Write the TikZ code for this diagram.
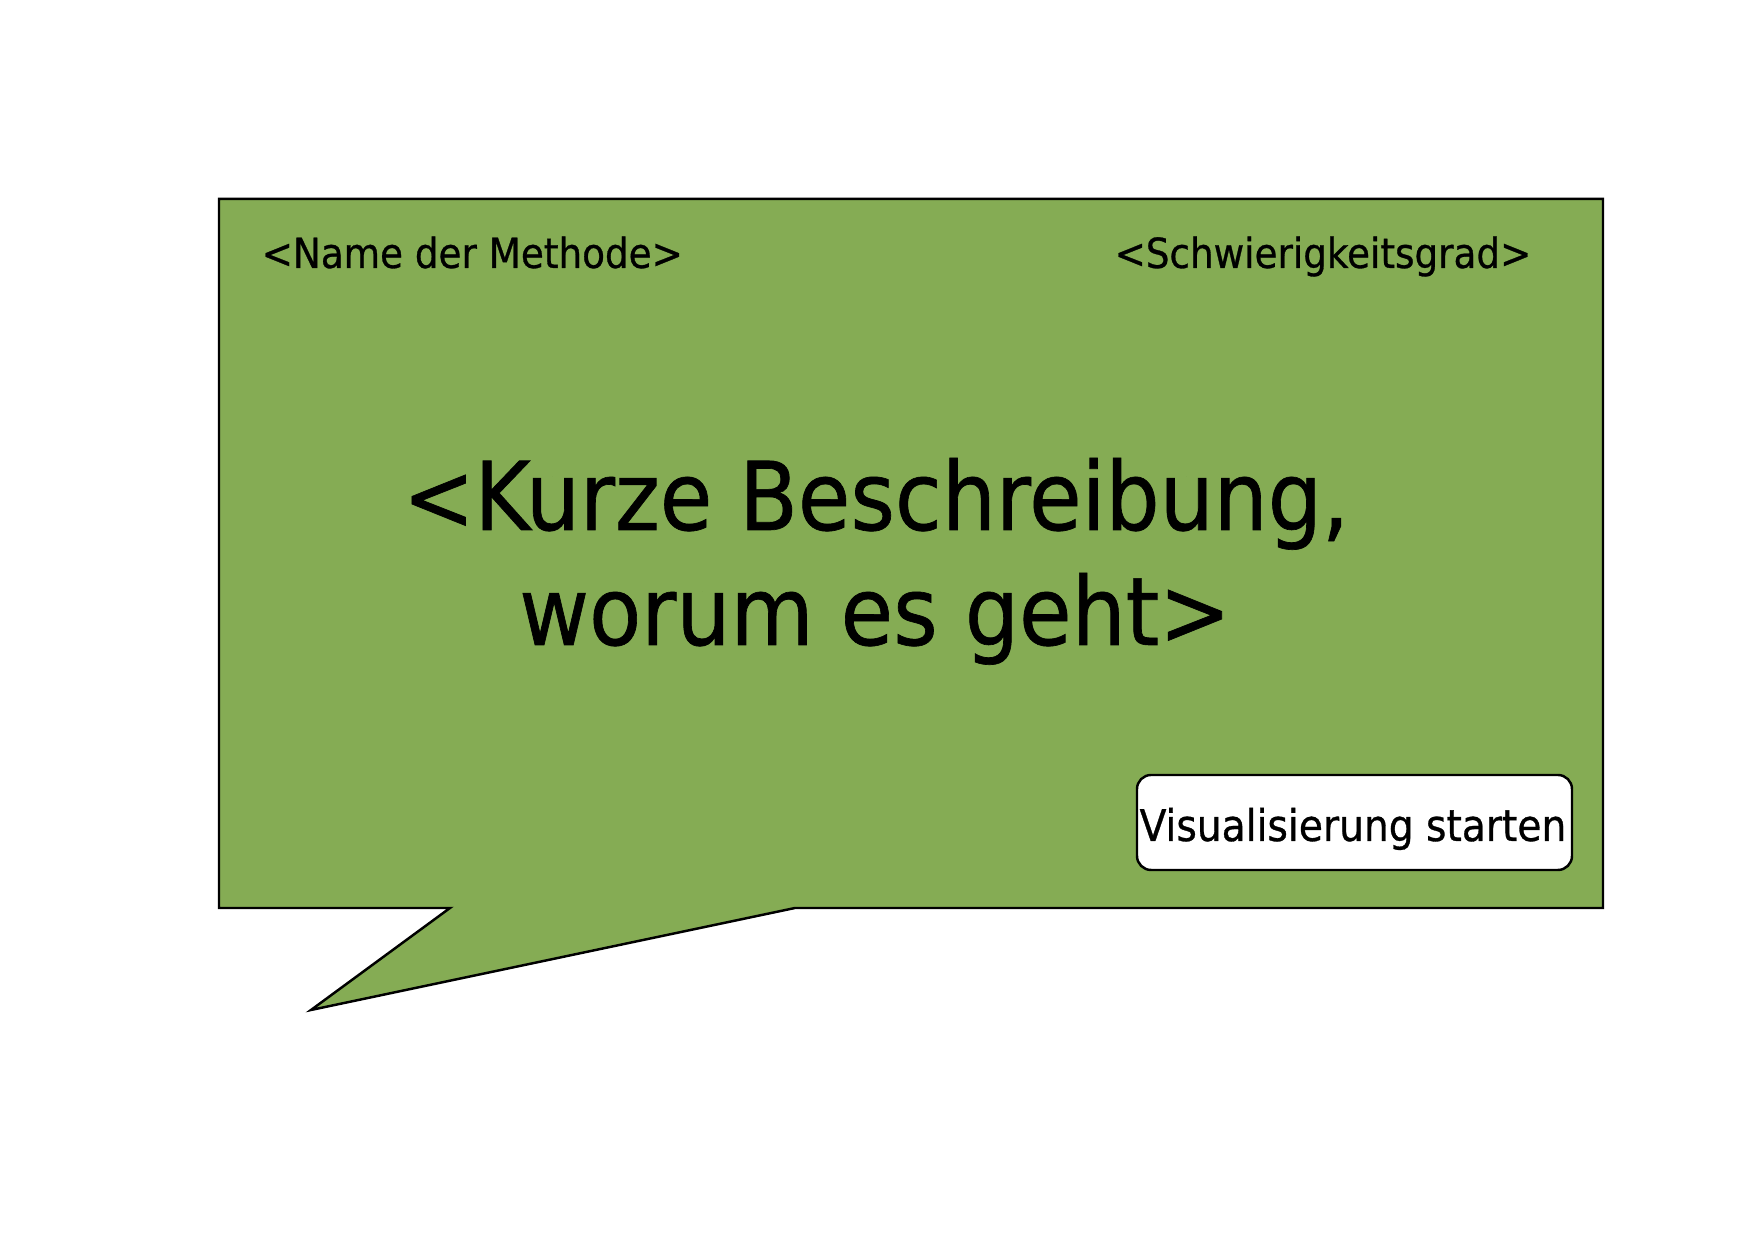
\documentclass[tikz,border=0pt]{standalone}
\usepackage{fontspec}
\setmainfont{DejaVu Sans Condensed}
\newfontface\heavyface{DejaVu Sans Condensed}[FakeBold=0.7]
\definecolor{bubblegreen}{RGB}{133,172,84}
\tikzset{
  bubble/.style={fill=bubblegreen, draw=black, line width=0.7pt, line join=miter},
  smalltxt/.style={inner sep=0pt, font=\heavyface\fontsize{11.8}{14}\selectfont},
  bigtxt/.style={inner sep=0pt, font=\heavyface\fontsize{27}{32}\selectfont},
  btntxt/.style={inner sep=0pt, font=\heavyface\fontsize{12.4}{15}\selectfont},
  btn/.style={draw=black, fill=white, rounded corners=4pt, line width=0.7pt, minimum width=4.35cm, minimum height=0.95cm, inner sep=0pt},
}
\begin{document}
\begin{tikzpicture}
\useasboundingbox (0,0) rectangle (17.54,12.39);
\fill[white] (0,0) rectangle (17.54,12.39);
\draw[bubble] (2.19,10.40) -- (16.03,10.40) -- (16.03,3.31) -- (7.95,3.31) -- (3.11,2.29) -- (4.50,3.31) -- (2.19,3.31) -- cycle;
\node[smalltxt, anchor=base west] (name) at (2.61,9.71) {<Name der Methode>};
\node[smalltxt, anchor=base east] (grad) at (15.32,9.71) {<Schwierigkeitsgrad>};
\node[bigtxt, anchor=base] (l1) at (8.76,7.09) {<Kurze Beschreibung,};
\node[bigtxt, anchor=base] (l2) at (8.75,5.94) {worum es geht>};
\node[btn] (button) at (13.545,4.165) {};
\node[btntxt, anchor=base] (btnlabel) at (13.53,3.98) {Visualisierung starten};
\end{tikzpicture}
\end{document}
